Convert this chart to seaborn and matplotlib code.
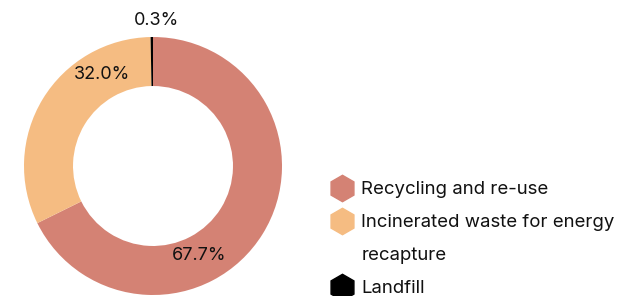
import matplotlib
matplotlib.use("Agg")
import matplotlib.pyplot as plt
from matplotlib.lines import Line2D
import numpy as np
import seaborn as sns

# chart data
categories = ["Recycling and re-use", "Incinerated waste for energy\nrecapture", "Landfill"]
shares = [67.7, 32.0, 0.3]
colors = ["#D48274", "#F5BC82", "#000000"]
# angle (deg) and radius used to place each percentage label
label_angles = [-63, 119, 88.5]
label_radius = [0.78, 0.81, 1.13]

sns.set_theme(style="white")
plt.rcParams["font.family"] = ["Inter", "DejaVu Sans"]

fig = plt.figure(figsize=(6.18, 2.96), dpi=100)
W, H = 618, 296
cx, cy, r = 153, 166, 129
ax = fig.add_axes([(cx - r) / W, (H - cy - r) / H, 2 * r / W, 2 * r / H])
ax.pie(shares, colors=colors, startangle=90, counterclock=False,
       wedgeprops=dict(width=0.38, linewidth=0), radius=1)
ax.set_xlim(-1, 1)
ax.set_ylim(-1, 1)
ax.set_aspect("equal")
ax.axis("off")

for val, ang, rad in zip(shares, label_angles, label_radius):
    a = np.deg2rad(ang)
    ax.text(rad * np.cos(a), rad * np.sin(a), f"{val:.1f}%", ha="center", va="center",
            fontsize=13, color="#111111", clip_on=False)

# legend, second label wraps onto a line with no marker
handles, labels = [], []
for cat, col in zip(categories, colors):
    parts = cat.split("\n")
    handles.append(Line2D([], [], marker="h", linestyle="", markersize=19,
                          markerfacecolor=col, markeredgecolor=col))
    labels.append(parts[0])
    for extra in parts[1:]:
        handles.append(Line2D([], [], linestyle="", marker=None))
        labels.append(extra)

fig.legend(handles, labels, loc="upper left", bbox_to_anchor=(331 / W, 1 - 181 / H),
           frameon=False, fontsize=13.4, labelspacing=0.86, handletextpad=0.42,
           handlelength=1.2, borderpad=0, borderaxespad=0, labelcolor="#111111")

fig.savefig("out.png", dpi=100)
